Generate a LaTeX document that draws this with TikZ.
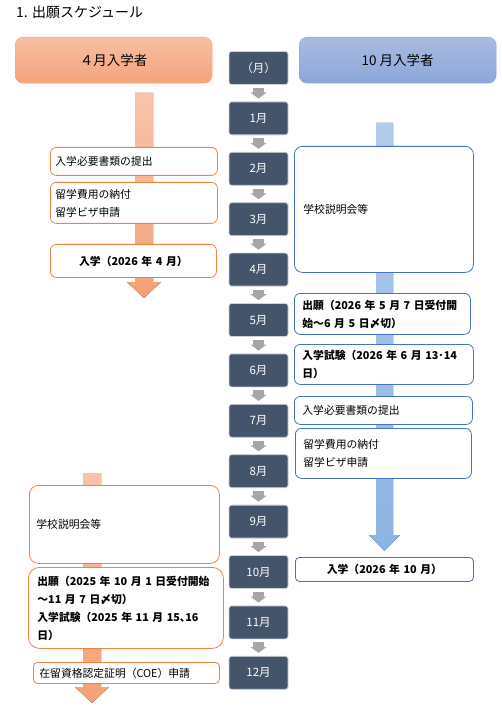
\documentclass[tikz,border=0pt]{standalone}
\usepackage{fontspec}
\setmainfont{Noto Sans CJK JP}
\usetikzlibrary{arrows.meta,calc}
\definecolor{monthfill}{HTML}{44546A}
\definecolor{monthedge}{HTML}{D0D3D8}
\definecolor{garrowc}{HTML}{A6A6A6}
\definecolor{oline}{HTML}{EE8444}
\definecolor{bline}{HTML}{4472C4}
\definecolor{otop}{HTML}{F8C4AB}
\definecolor{obot}{HTML}{F4A077}
\definecolor{btop}{HTML}{B2CDEC}
\definecolor{bbot}{HTML}{8DB3E2}
\definecolor{ohtop}{HTML}{F7BFA3}
\definecolor{ohbot}{HTML}{F4A47C}
\definecolor{bhtop}{HTML}{AABAE1}
\definecolor{bhbot}{HTML}{8DA7DA}
\tikzset{
  month/.style={draw=monthedge, line width=0.8pt, fill=monthfill, rounded corners=2.5pt,
    minimum width=59pt, minimum height=33pt, text=white, inner sep=0pt,
    font=\fontsize{11.5}{13}\selectfont},
  garrow/.style={draw=garrowc, line width=11pt, -{Triangle[width=16pt,length=6pt]}},
  obox/.style={draw=oline, line width=0.8pt, fill=white, rounded corners=6pt, anchor=north west,
    inner ysep=0pt, align=left, font=\fontsize{10.8}{18}\selectfont},
  bbox/.style={draw=bline, line width=0.8pt, fill=white, rounded corners=6pt, anchor=north west,
    inner ysep=0pt, align=left, font=\fontsize{10.8}{18}\selectfont},
  hdr/.style={rounded corners=8pt, anchor=north west, inner sep=0pt, align=center,
    font=\fontsize{13.5}{16}\selectfont},
  boldtext/.style={font=\fontsize{10.8}{18}\selectfont\bfseries},
}
\begin{document}
\begin{tikzpicture}[x=1pt,y=-1pt]
\useasboundingbox[fill=white] (0,0) rectangle (502,708);

% title
\node[anchor=west, inner sep=0pt, font=\fontsize{14}{16}\selectfont] (title) at (16,12) {1. 出願スケジュール};

% headers
\node[hdr, draw=ohbot, top color=ohtop, bottom color=ohbot, minimum width=197pt, minimum height=46pt] (h4) at (15,37) {４月入学者};
\node[hdr, draw=bhbot, top color=bhtop, bottom color=bhbot, minimum width=197pt, minimum height=46pt] (h10) at (299,37) {10 月入学者};

% big arrows (decorative shapes)
\fill[top color=otop, bottom color=obot] (135,93) -- (153,93) -- (153,282) -- (161,282) -- (144,298) -- (127,282) -- (135,282) -- cycle;
\fill[top color=otop, bottom color=obot] (83,473) -- (101,473) -- (101,687) -- (109,687) -- (92,703) -- (75,687) -- (83,687) -- cycle;
\fill[top color=btop, bottom color=bbot] (376,123) -- (393,123) -- (393,535) -- (400,535) -- (384.5,551) -- (369,535) -- (376,535) -- cycle;

% month column
\foreach \i/\t in {0/（月）,1/1月,2/2月,3/3月,4/4月,5/5月,6/6月,7/7月,8/8月,9/9月,10/10月,11/11月,12/12月}{
  \node[month] (m\i) at (258.5,{68+50.4*\i}) {\t};
}
\foreach \i in {0,...,11}{
  \pgfmathtruncatemacro{\j}{\i+1}
  \draw[garrow] ($(m\i.south)+(0,3)$) -- ($(m\j.north)+(0,-3)$);
}

% left column (April intake)
\node[obox, minimum width=167pt, text width=157pt, inner xsep=5pt, minimum height=28pt] (l1) at (50,147) {入学必要書類の提出};
\node[obox, minimum width=167pt, text width=157pt, inner xsep=5pt, minimum height=41pt] (l2) at (50,182) {留学費用の納付\\留学ビザ申請};
\node[obox, boldtext, minimum width=166pt, text width=156pt, inner xsep=5pt, minimum height=33pt, align=center] (l3) at (50,244) {入学（2026 年 4 月）};
\node[obox, minimum width=190pt, text width=176pt, inner xsep=7pt, minimum height=78pt, rounded corners=9pt] (l4) at (29,485) {学校説明会等};
\node[obox, boldtext, minimum width=195pt, text width=177pt, inner xsep=9pt, minimum height=81pt, rounded corners=11pt] (l5) at (28,567) {出願（2025 年 10 月 1 日受付開始\\～11 月 7 日〆切）\\入学試験（2025 年 11 月 15､16\\日）};
\node[obox, minimum width=186pt, text width=174pt, inner xsep=6pt, minimum height=21pt, rounded corners=4pt] (l6) at (33,662) {在留資格認定証明（COE）申請};

% right column (October intake)
\node[bbox, minimum width=179pt, text width=161pt, inner xsep=9pt, minimum height=126pt, rounded corners=8pt] (r1) at (294,146) {学校説明会等};
\node[bbox, boldtext, minimum width=176pt, text width=160pt, inner xsep=8pt, minimum height=41pt] (r2) at (294,293) {出願（2026 年 5 月 7 日受付開\\始～6 月 5 日〆切）};
\node[bbox, boldtext, minimum width=179pt, text width=163pt, inner xsep=8pt, minimum height=40pt] (r3) at (294,344) {入学試験（2026 年 6 月 13･14\\日）};
\node[bbox, minimum width=178pt, text width=162pt, inner xsep=8pt, minimum height=28pt] (r4) at (294,396) {入学必要書類の提出};
\node[bbox, minimum width=176pt, text width=160pt, inner xsep=8pt, minimum height=50pt] (r5) at (295,428) {留学費用の納付\\留学ビザ申請};
\node[bbox, boldtext, minimum width=178pt, text width=162pt, inner xsep=8pt, minimum height=24pt, align=center, rounded corners=4pt] (r6) at (295,557) {入学（2026 年 10 月）};
\end{tikzpicture}
\end{document}
